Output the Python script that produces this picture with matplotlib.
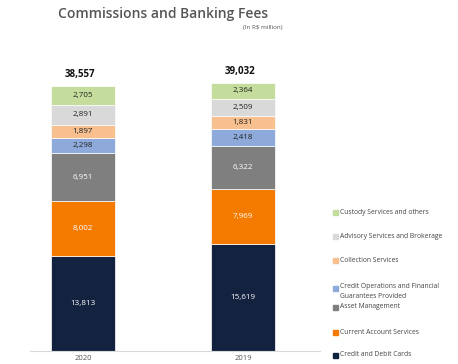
import numpy as np
import matplotlib.pyplot as plt
from matplotlib.patches import Rectangle

plt.rcParams['font.family'] = ['Open Sans', 'DejaVu Sans']

years = ['2020', '2019']
series = ['Credit and Debit Cards', 'Current Account Services', 'Asset Management',
          'Credit Operations and Financial\nGuarantees Provided', 'Collection Services',
          'Advisory Services and Brokerage', 'Custody Services and others']
cards = [13813, 15619]
current_account = [8002, 7969]
asset_mgmt = [6951, 6322]
credit_ops = [2298, 2418]
collection = [1897, 1831]
advisory = [2891, 2509]
custody = [2705, 2364]
totals = ['38,557', '39,032']

values = [cards, current_account, asset_mgmt, credit_ops, collection, advisory, custody]
colors = ['#13223f', '#f47b00', '#7f7f7f', '#8eaadb', '#f8bf8f', '#d9d9d9', '#c4dd9c']
txt_colors = ['white', 'white', 'white', '#222222', '#222222', '#222222', '#222222']

fig = plt.figure(figsize=(4.58, 3.64), dpi=100)
ax = fig.add_axes([30 / 458, 13 / 364, 290 / 458, 291 / 364])

x = np.arange(len(years))
bottom = np.zeros(len(years))
for vals, c, tc in zip(values, colors, txt_colors):
    vals = np.array(vals)
    ax.bar(x, vals, 0.4, bottom=bottom, color=c, edgecolor='white', linewidth=0.5)
    for xi, b, v in zip(x, bottom, vals):
        ax.text(xi, b + v / 2, f'{v:,}', ha='center', va='center', fontsize=5.8, color=tc)
    bottom += vals

for xi, b, t in zip(x, bottom, totals):
    ax.text(xi - 0.02, b + 900, t, ha='center', va='bottom', fontsize=7, fontweight='bold', color='#111111')

ax.set_xlim(-0.331, 1.48)
ax.set_ylim(0, 42360)
ax.set_xticks(x)
ax.set_xticklabels(years, fontsize=5.5, color='#555555')
ax.tick_params(axis='x', length=0, pad=3)
ax.set_yticks([])
for s in ['top', 'right', 'left']:
    ax.spines[s].set_visible(False)
ax.spines['bottom'].set_color('#d9d9d9')
ax.spines['bottom'].set_linewidth(0.8)

fig.text(163 / 458, 1 - 14 / 364, 'Commissions and Banking Fees', ha='center', va='center',
         fontsize=10, fontweight='semibold', color='#555555')
fig.text(263 / 458, 1 - 28 / 364, '(In R$ million)', ha='center', va='center',
         fontsize=4.5, color='#555555')

# legend, top to bottom
leg_y = [355, 332, 307, 288, 260, 236, 212]
for name, c, yp in zip(series, colors, leg_y):
    fig.add_artist(Rectangle((333 / 458, 1 - (yp + 2.5) / 364), 5 / 458, 5 / 364,
                             color=c, transform=fig.transFigure))
    first_y = yp - 5 if '\n' in name else yp
    fig.text(340 / 458, 1 - first_y / 364, name, ha='left', va='top' if '\n' in name else 'center',
             fontsize=4.9, color='#444444', linespacing=1.5)

fig.savefig('out.png', dpi=100)
